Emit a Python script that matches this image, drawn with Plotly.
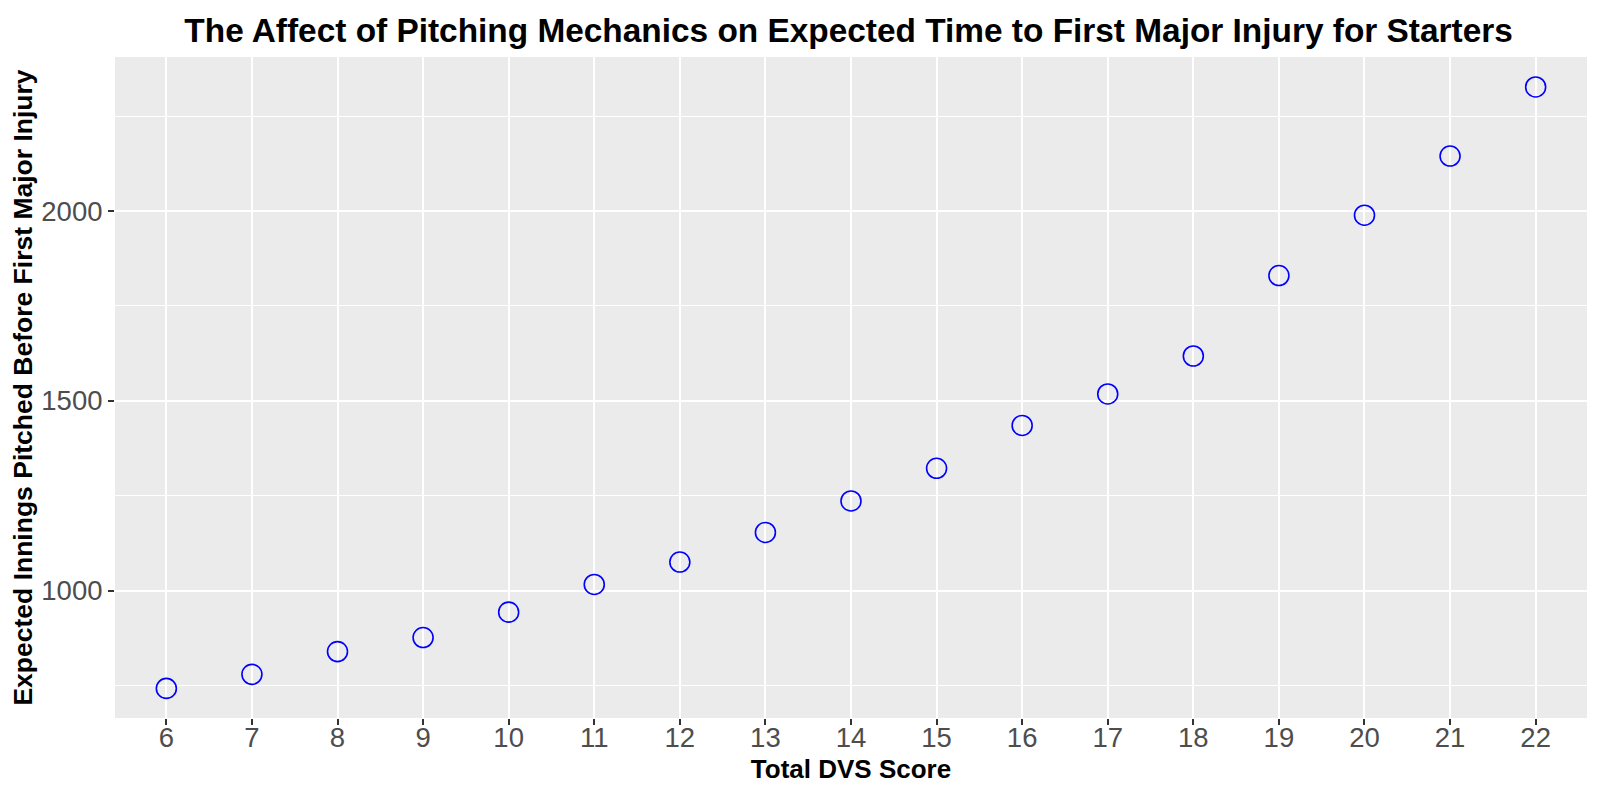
import plotly.graph_objects as go

dvs_score = [6, 7, 8, 9, 10, 11, 12, 13, 14, 15, 16, 17, 18, 19, 20, 21, 22]
expected_innings = [742, 779, 839, 876, 943, 1016, 1075, 1153, 1236, 1322, 1435, 1518, 1618, 1830, 1989, 2145, 2327]

title_text = "The Affect of Pitching Mechanics on Expected Time to First Major Injury for Starters"
x_title = "Total DVS Score"
y_title = "Expected Innings Pitched Before First Major Injury"

fig = go.Figure()
fig.add_trace(go.Scatter(
    x=dvs_score, y=expected_innings, mode="markers",
    marker=dict(symbol="circle-open", size=20, color="#0000FF", line=dict(width=1.6, color="#0000FF")),
    showlegend=False,
))
# invisible companion trace so the overlay axis (tick marks only) is drawn
fig.add_trace(go.Scatter(
    x=dvs_score, y=expected_innings, mode="markers", xaxis="x2",
    marker=dict(opacity=0), hoverinfo="skip", showlegend=False,
))

font_family = "Liberation Sans, Arial, sans-serif"
tick_family = "Liberation Sans Narrow, Liberation Sans, Arial, sans-serif"
x_range = [5.4, 22.6]
fig.update_layout(
    width=1592, height=792,
    paper_bgcolor="white", plot_bgcolor="#EBEBEB",
    margin=dict(l=107, r=13, t=49, b=82, autoexpand=False),
    title=dict(text="<b>" + title_text + "</b>", x=0.528, xanchor="center", y=0.986, yanchor="top",
               pad=dict(t=0, b=0), font=dict(family=font_family, size=33.4, color="black")),
    font=dict(family=font_family),
    xaxis2=dict(overlaying="x", anchor="y", side="bottom", range=x_range,
                tickmode="array", tickvals=dvs_score, showticklabels=False,
                ticks="outside", ticklen=6, tickwidth=2, tickcolor="#333333",
                showgrid=False, zeroline=False, showline=False, automargin=False),
)
fig.layout.xaxis.update(
    range=x_range, tickmode="array", tickvals=dvs_score, ticktext=[str(v) for v in dvs_score],
    showgrid=True, gridcolor="white", gridwidth=2, zeroline=False, automargin=False,
    ticks="",
    tickfont=dict(size=27.5, color="#4D4D4D", family=tick_family),
    title=dict(text="<b>" + x_title + "</b>", font=dict(size=26, color="black", family=font_family), standoff=8),
    showline=False,
)
fig.update_yaxes(
    range=[664, 2406], tickmode="array", tickvals=[1000, 1500, 2000],
    showgrid=True, gridcolor="white", gridwidth=2, zeroline=False, automargin=False,
    ticks="outside", ticklen=6, tickwidth=2, tickcolor="#333333",
    tickfont=dict(size=27.5, color="#4D4D4D", family=tick_family),
    title=dict(text="<b>" + y_title + "</b>", font=dict(size=26.5, color="black", family=font_family), standoff=9),
    minor=dict(tickmode="array", tickvals=[750, 1250, 1750, 2250], showgrid=True, gridcolor="white", gridwidth=1, ticks=""),
    showline=False,
)

fig.write_html("out.html")
